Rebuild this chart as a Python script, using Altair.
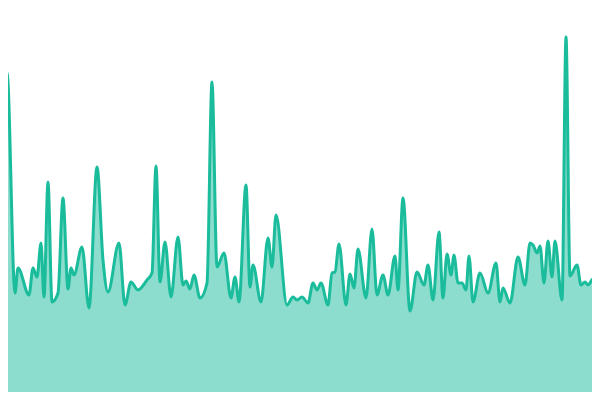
import altair as alt
import pandas as pd

# x in "day" units, value in arbitrary units
days = [0, 1.75, 3.75, 4.5, 7.25, 8.25, 9.25, 10.25, 11, 12, 13, 14.5, 15.75, 17, 17.75, 18.5,
        20.5, 22.25, 24.25, 25.75, 27, 29.75, 31.25, 32.75, 34.5, 36.75, 38, 39, 40, 41.25,
        42.75, 44.5, 45.75, 46.5, 47.5, 48.5, 50, 51.75, 53, 54.25, 56, 57.75, 58.75, 59.75,
        61.5, 62.5, 63.25, 65.25, 67, 68, 69, 71.75, 73.25, 74.25, 75.5, 77, 78.25, 79.25,
        80.25, 82, 83, 83.75, 84.75, 86.5, 87.5, 88.5, 89.5, 91.5, 93, 94.25, 95.75, 97,
        98.75, 99.5, 100.75, 102.5, 104.25, 106, 107, 108.25, 109.75, 110.75, 111.75, 112.75,
        113.5, 114.5, 115.5, 116.5, 117.25, 118.25, 120, 122, 124, 125, 125.75, 127.5, 129.5,
        131.25, 132.5, 133.25, 134.25, 135, 136, 137, 138, 138.75, 140.5, 141.5, 142.5, 144.25,
        145.25, 146.25, 147, 148.25, 149.25, 150]
values = [0, 82, 26.75, 33, 26.25, 33, 30.75, 39.25, 25.75, 54.5, 24.5, 26.75, 50.5, 27.75, 33, 31.25,
          38.25, 23, 58.25, 35, 27, 39.25, 23.75, 29.5, 27.5, 30, 31.75, 58.5, 29.5, 39.5,
          25.75, 40.75, 28.75, 29.75, 27.75, 31.25, 25.5, 29.25, 79.5, 33.25, 36.75, 25.5, 30.75, 24.5,
          53.75, 28.25, 33.75, 24.5, 40.5, 33.25, 46.25, 23.75, 25.75, 25, 25.75, 24.25, 29.25, 27.5,
          29.25, 23.75, 31.75, 32, 39, 23.75, 31.5, 28, 37.75, 25.5, 42.75, 26.25, 31.25, 26.25,
          36, 27.5, 50.5, 22.25, 32, 28.75, 33.75, 25, 42, 25.5, 36.5, 31.25,
          36.25, 29.25, 29.25, 27.5, 36, 24.5, 31.75, 26.75, 34.25, 24.5, 28, 24.25, 35.75,
          28.75, 39.25, 38.75, 36.75, 38.5, 29.25, 39.75, 30.75, 39.75, 25, 90.75, 31, 33.75,
          28.75, 29.5, 28.75, 30.25, 26.75, 29.25]

df = pd.DataFrame({"day": days, "value": values})

x = alt.X("day:Q", axis=None, scale=alt.Scale(domain=[2, 148], nice=False, zero=False))
y = alt.Y("value:Q", axis=None, scale=alt.Scale(domain=[2, 98], nice=False, zero=False))

area = alt.Chart(df).mark_area(
    interpolate="monotone", color="#1abc9c", opacity=0.5, clip=True
).encode(x=x, y=y)

line = alt.Chart(df).mark_line(
    interpolate="monotone", color="#1abc9c", strokeWidth=3, clip=True
).encode(x=x, y=y)

chart = (area + line).properties(
    width=584, height=384, padding=0, autosize=alt.AutoSizeParams(type="none")
).configure_view(stroke=None)

chart.save("out.html", embed_options={"renderer": "svg", "actions": False})
